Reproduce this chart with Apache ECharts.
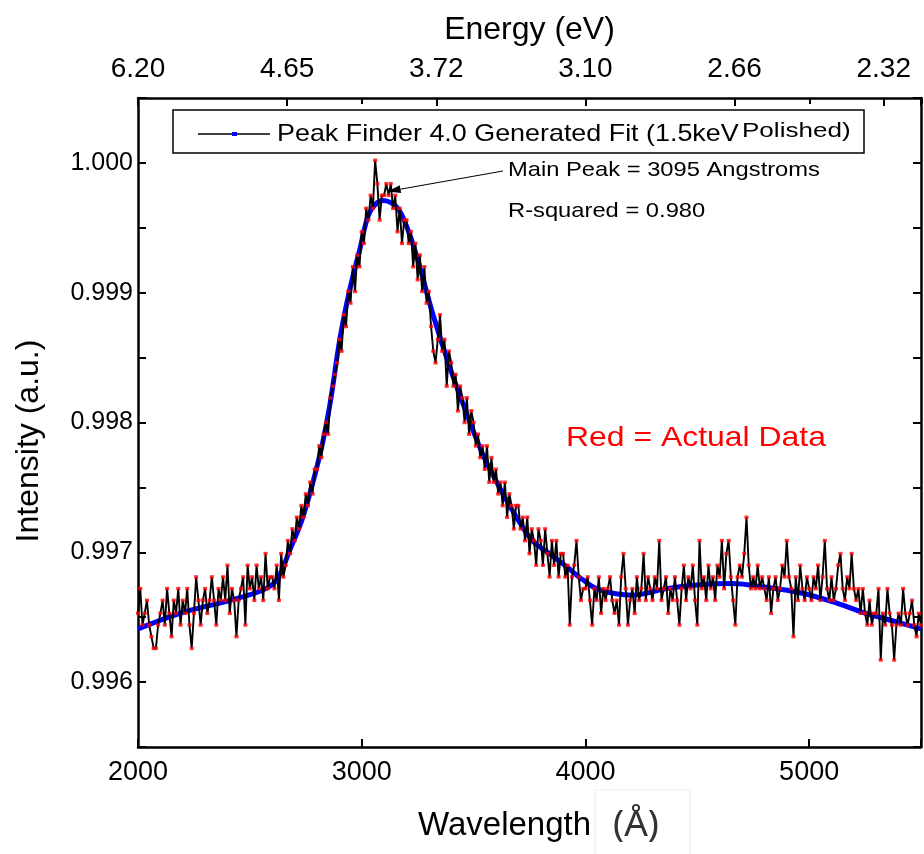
<!DOCTYPE html>
<html>
<head>
<meta charset="utf-8">
<script src="https://cdn.jsdelivr.net/npm/echarts@6/dist/echarts.min.js"></script>
<style>
  html, body { margin: 0; padding: 0; background: #fff; }
  #main { width: 924px; height: 854px; }
</style>
</head>
<body>
<div id="main"></div>
<script>
// measured spectrum, one value every 10 Angstrom from 2000
var waveStart = 2000
var waveStep = 10
var intensity = [
  0.99653, 0.99672, 0.99644, 0.99653, 0.99663, 0.99644, 0.99635, 0.99626, 0.99626, 0.99644,
  0.99653, 0.99663, 0.99644, 0.99672, 0.99653, 0.99635, 0.99663, 0.99653, 0.99672, 0.99644,
  0.99663, 0.99653, 0.99672, 0.99644, 0.99626, 0.99653, 0.99681, 0.99663, 0.99644, 0.99663,
  0.99672, 0.99653, 0.99663, 0.99681, 0.99663, 0.99644, 0.99672, 0.99663, 0.99681, 0.99663,
  0.99690, 0.99653, 0.99672, 0.99663, 0.99635, 0.99663, 0.99672, 0.99681, 0.99644, 0.99690,
  0.99672, 0.99681, 0.99663, 0.99690, 0.99672, 0.99681, 0.99663, 0.99699, 0.99672, 0.99681,
  0.99681, 0.99672, 0.99690, 0.99663, 0.99699, 0.99681, 0.99690, 0.99709, 0.99699, 0.99718,
  0.99709, 0.99727, 0.99718, 0.99736, 0.99727, 0.99745, 0.99736, 0.99754, 0.99745, 0.99764,
  0.99764, 0.99782, 0.99773, 0.99791, 0.99800, 0.99791, 0.99819, 0.99828, 0.99837, 0.99846,
  0.99864, 0.99855, 0.99883, 0.99874, 0.99901, 0.99892, 0.99920, 0.99901, 0.99929, 0.99920,
  0.99947, 0.99938, 0.99965, 0.99956, 0.99975, 0.99965, 1.00002, 0.99984, 0.99956, 0.99975,
  0.99975, 0.99984, 0.99975, 0.99984, 0.99965, 0.99975, 0.99947, 0.99965, 0.99938, 0.99956,
  0.99956, 0.99938, 0.99947, 0.99920, 0.99938, 0.99910, 0.99929, 0.99901, 0.99920, 0.99892,
  0.99901, 0.99874, 0.99855, 0.99846, 0.99864, 0.99883, 0.99855, 0.99864, 0.99828, 0.99855,
  0.99846, 0.99828, 0.99837, 0.99809, 0.99828, 0.99819, 0.99800, 0.99819, 0.99791, 0.99809,
  0.99800, 0.99782, 0.99791, 0.99773, 0.99782, 0.99764, 0.99782, 0.99754, 0.99773, 0.99754,
  0.99764, 0.99745, 0.99754, 0.99736, 0.99754, 0.99727, 0.99745, 0.99736, 0.99718, 0.99736,
  0.99736, 0.99718, 0.99727, 0.99709, 0.99727, 0.99699, 0.99718, 0.99709, 0.99690, 0.99718,
  0.99709, 0.99690, 0.99718, 0.99699, 0.99681, 0.99709, 0.99690, 0.99709, 0.99681, 0.99699,
  0.99699, 0.99681, 0.99690, 0.99644, 0.99681, 0.99690, 0.99709, 0.99681, 0.99663, 0.99672,
  0.99672, 0.99681, 0.99663, 0.99644, 0.99672, 0.99663, 0.99681, 0.99653, 0.99672, 0.99663,
  0.99672, 0.99681, 0.99663, 0.99653, 0.99663, 0.99644, 0.99681, 0.99699, 0.99672, 0.99644,
  0.99663, 0.99672, 0.99653, 0.99681, 0.99663, 0.99672, 0.99699, 0.99663, 0.99681, 0.99672,
  0.99663, 0.99681, 0.99672, 0.99709, 0.99663, 0.99672, 0.99681, 0.99653, 0.99672, 0.99663,
  0.99681, 0.99663, 0.99644, 0.99672, 0.99690, 0.99663, 0.99681, 0.99672, 0.99690, 0.99663,
  0.99644, 0.99709, 0.99672, 0.99681, 0.99663, 0.99690, 0.99672, 0.99681, 0.99663, 0.99690,
  0.99681, 0.99709, 0.99672, 0.99699, 0.99709, 0.99681, 0.99663, 0.99644, 0.99681, 0.99690,
  0.99681, 0.99699, 0.99727, 0.99690, 0.99672, 0.99681, 0.99672, 0.99690, 0.99672, 0.99681,
  0.99672, 0.99663, 0.99681, 0.99653, 0.99672, 0.99681, 0.99663, 0.99672, 0.99690, 0.99681,
  0.99709, 0.99681, 0.99672, 0.99635, 0.99681, 0.99663, 0.99690, 0.99672, 0.99663, 0.99681,
  0.99672, 0.99663, 0.99681, 0.99672, 0.99690, 0.99663, 0.99681, 0.99709, 0.99672, 0.99663,
  0.99681, 0.99663, 0.99672, 0.99690, 0.99699, 0.99672, 0.99663, 0.99681, 0.99672, 0.99699,
  0.99672, 0.99663, 0.99672, 0.99653, 0.99672, 0.99653, 0.99644, 0.99663, 0.99644, 0.99653,
  0.99653, 0.99672, 0.99617, 0.99653, 0.99644, 0.99672, 0.99653, 0.99644, 0.99617, 0.99644,
  0.99653, 0.99644, 0.99672, 0.99653, 0.99644, 0.99653, 0.99663, 0.99644, 0.99635, 0.99653,
  0.99644
]

// Peak Finder fit curve
var fitWave = [2000, 2188, 2411, 2558, 2621, 2679, 2737, 2813, 2857, 2902, 2946, 2991, 3036, 3094,
  3156, 3201, 3246, 3317, 3393, 3469, 3540, 3616, 3692, 3763, 3839, 3915, 3987, 4063, 4210,
  4362, 4509, 4656, 4808, 4955, 5103, 5254, 5379, 5500]
var fitValue = [0.99641, 0.99653, 0.99663, 0.99671, 0.99679, 0.99702, 0.99727, 0.99775, 0.99813,
  0.99864, 0.99902, 0.99933, 0.99962, 0.99971, 0.99966, 0.99951, 0.99928, 0.99884, 0.99843,
  0.99807, 0.99776, 0.99750, 0.99727, 0.99709, 0.99699, 0.99689, 0.99679, 0.99671, 0.99667,
  0.99672, 0.99675, 0.99676, 0.99673, 0.99669, 0.99662, 0.99653, 0.99647, 0.99641]

var energyLabels = ['6.20', '4.65', '3.72', '3.10', '2.66', '2.32']

var dataPoints = intensity.map(function (v, i) { return [waveStart + i * waveStep, v] })
var fitPoints = fitWave.map(function (w, i) { return [w, fitValue[i]] })

var font = '"Liberation Sans", Arial, sans-serif'
var axisLine = { show: true, onZero: false, lineStyle: { color: '#000', width: 2.5 } }
var axisTick = { show: true, inside: true, length: 8, lineStyle: { color: '#000', width: 2 } }
var plotRect = { left: 138, right: 2, top: 98, bottom: 107 }

var option = {
  animation: false,
  backgroundColor: '#fff',
  grid: [plotRect, plotRect],
  xAxis: [
    {
      type: 'value', position: 'bottom', min: 2000, max: 5500, interval: 1000,
      name: '{a|Wavelength}{b|(Å)}', nameLocation: 'middle', nameGap: 60,
      nameTextStyle: {
        rich: {
          a: { fontSize: 33, fontFamily: font, color: '#000', padding: [0, 0, 0, 18] },
          b: { fontSize: 37, fontFamily: '"Noto Sans", sans-serif', color: '#333', padding: [0, 0, 0, 22] }
        }
      },
      axisLine: axisLine, axisTick: axisTick,
      axisLabel: {
        margin: 12, fontSize: 27, color: '#000', fontFamily: font,
        formatter: function (v) { return Math.abs((v - 2000) % 1000) < 1e-6 ? String(v) : '' }
      },
      splitLine: { show: false }
    },
    {
      type: 'value', position: 'top', min: 2000, max: 5500, interval: 2000 / 3,
      name: 'Energy (eV)', nameLocation: 'middle', nameGap: 52,
      nameTextStyle: { fontSize: 32, fontFamily: font, color: '#000' },
      axisLine: axisLine, axisTick: axisTick,
      axisLabel: {
        margin: 15, fontSize: 28, color: '#000', fontFamily: font,
        formatter: function (v) {
          var idx = Math.round((v - 2000) / (2000 / 3))
          return Math.abs(v - 2000 - idx * 2000 / 3) < 0.5 && energyLabels[idx] ? energyLabels[idx] : ''
        }
      },
      splitLine: { show: false }
    },
    {
      // wavelength ticks mirrored on the top edge
      type: 'value', gridIndex: 1, position: 'top', min: 2000, max: 5500, interval: 1000,
      axisLine: { show: false },
      axisTick: { show: true, inside: true, length: 6, lineStyle: { color: '#000', width: 2 } },
      axisLabel: { show: false },
      splitLine: { show: false }
    }
  ],
  yAxis: [
    {
      type: 'value', position: 'left', min: 0.9955, max: 1.0005, interval: 0.0005,
      axisLine: axisLine, axisTick: axisTick,
      axisLabel: {
        margin: 5, fontSize: 25, color: '#000', fontFamily: font,
        formatter: function (v) {
          var k = v * 1000
          return Math.abs(k - Math.round(k)) < 1e-6 ? v.toFixed(3) : ''
        }
      },
      splitLine: { show: false }
    },
    {
      type: 'value', position: 'right', min: 0.9955, max: 1.0005, interval: 0.0005,
      axisLine: axisLine, axisTick: axisTick,
      axisLabel: { show: false },
      splitLine: { show: false }
    },
    {
      type: 'value', gridIndex: 1, min: 0.9955, max: 1.0005, show: false
    }
  ],
  series: [
    {
      name: 'Peak Finder 4.0 Generated Fit', type: 'line', data: fitPoints,
      smooth: 0.35, showSymbol: false, silent: true, z: 2,
      lineStyle: { color: '#0000ff', width: 5 }
    },
    {
      name: 'Actual Data', type: 'line', data: dataPoints,
      showSymbol: false, silent: true, z: 3,
      lineStyle: { color: '#000', width: 1.9 }
    },
    {
      name: 'Actual Data points', type: 'scatter', data: dataPoints,
      symbol: 'rect', symbolSize: [4, 3.5], silent: true, z: 4,
      itemStyle: { color: '#ff0000' }
    }
  ]
}

var myChart = echarts.init(document.getElementById('main'), null, { renderer: 'canvas' })
myChart.setOption(option)

// annotations: legend box, peak arrow, texts
var tip = myChart.convertToPixel({ xAxisIndex: 0, yAxisIndex: 0 }, [3116, 0.99978])
var tail = [503, 171]
var ang = Math.atan2(tip[1] - tail[1], tip[0] - tail[0])
var head = [
  [tip[0], tip[1]],
  [tip[0] - 13 * Math.cos(ang) + 4 * Math.sin(ang), tip[1] - 13 * Math.sin(ang) - 4 * Math.cos(ang)],
  [tip[0] - 13 * Math.cos(ang) - 4 * Math.sin(ang), tip[1] - 13 * Math.sin(ang) + 4 * Math.cos(ang)]
]
function label(text, x, y, size, color, sx) {
  return {
    type: 'text', x: x, y: y, scaleX: sx || 1.13, z: 100,
    style: { text: text, fill: color || '#000', fontSize: size, fontFamily: font, align: 'left', verticalAlign: 'middle' }
  }
}
myChart.setOption({
  graphic: [
    { type: 'rect', z: 90, shape: { x: 173, y: 110, width: 691, height: 43 },
      style: { fill: '#fff', stroke: '#000', lineWidth: 1.5 } },
    { type: 'line', z: 100, shape: { x1: 198, y1: 134, x2: 270, y2: 134 },
      style: { stroke: '#000', lineWidth: 1.5 } },
    { type: 'rect', z: 101, shape: { x: 232, y: 132, width: 5, height: 4 }, style: { fill: '#0000ff' } },
    label('Peak Finder 4.0 Generated Fit (1.5keV', 277, 134, 24, '#000', 1.12),
    label('Polished)', 742, 131, 21, '#000', 1.24),
    label('Main Peak = 3095 Angstroms', 508, 170, 21),
    label('R-squared = 0.980', 508, 211, 21),
    label('Red = Actual Data', 566, 438, 28, '#ff0000', 1.14),
    { type: 'line', z: 100, shape: { x1: tail[0], y1: tail[1], x2: head[1][0] / 2 + head[2][0] / 2, y2: head[1][1] / 2 + head[2][1] / 2 },
      style: { stroke: '#000', lineWidth: 1 } },
    { type: 'polygon', z: 100, shape: { points: head }, style: { fill: '#000' } },
    {
      type: 'text', x: 29, y: 441, rotation: Math.PI / 2, z: 100,
      style: { text: 'Intensity (a.u.)', fill: '#000', fontSize: 32, fontFamily: font, align: 'center', verticalAlign: 'middle' }
    },
    { type: 'rect', z: 1, shape: { x: 595, y: 790, width: 95, height: 70 },
      style: { fill: 'none', stroke: '#ececec', lineWidth: 1 } }
  ]
})
</script>
</body>
</html>
